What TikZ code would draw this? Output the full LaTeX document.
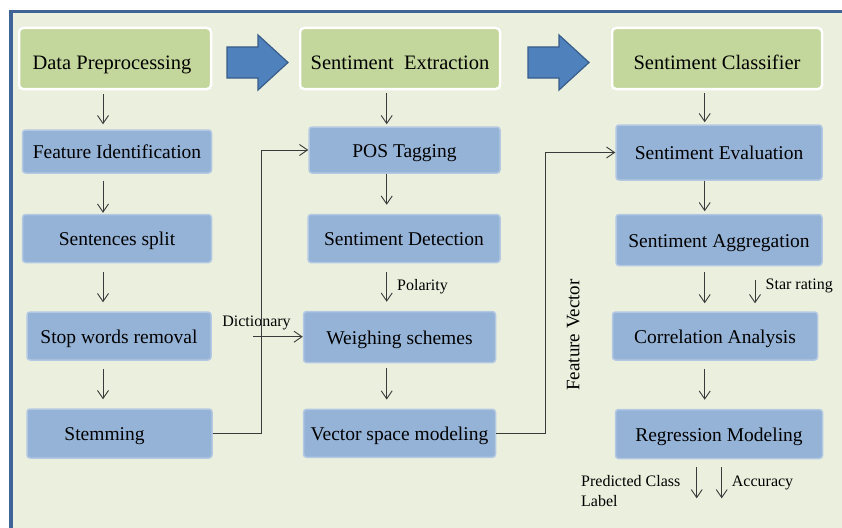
\documentclass[tikz,border=0pt]{standalone}
\usepackage{fontspec}
\setmainfont{Liberation Serif}
\usetikzlibrary{arrows.meta}
\definecolor{framebg}{HTML}{EBEFDE}
\definecolor{frameline}{HTML}{3F6598}
\definecolor{hdrfill}{HTML}{C3D69B}
\definecolor{boxfill}{HTML}{95B3D7}
\definecolor{boxedge}{HTML}{B3C8E2}
\definecolor{arrowfill}{HTML}{4F81BD}
\definecolor{arrowedge}{HTML}{385D8A}
\definecolor{linegray}{HTML}{3A3A3A}
\begin{document}
\begin{tikzpicture}[x=1pt, y=-1pt,
        hdr/.style={fill=hdrfill, draw=white, line width=2.5pt, rounded corners=4pt, inner sep=0pt,
            text height=22pt, text depth=0pt, font=\fontsize{20.5}{24}\selectfont},
        proc/.style={fill=boxfill, draw=boxedge, line width=1.5pt, rounded corners=3pt, inner sep=0pt,
            text height=14pt, text depth=0pt, font=\fontsize{19.5}{23}\selectfont},
        lbl/.style={inner sep=0pt, font=\fontsize{16}{20}\selectfont},
        flow/.style={-{Straight Barb[length=8pt,width=11pt]}, draw=linegray, line width=0.9pt},
        bigarrow/.style={fill=arrowfill, draw=arrowedge, line width=1.2pt}]
        \clip (0,0) rectangle (842,527);
        \useasboundingbox (0,0) rectangle (842,527);

        % Frame
        \fill[framebg] (11,11.7) rectangle (860,540);
        \draw[frameline, line width=3.3pt] (11,540) -- (11,11.7) -- (860,11.7);

        % Headers and big arrows
        \node[hdr, minimum width=192pt, minimum height=61pt] (dp) at (115,58.5) {Data Preprocessing\hspace*{6pt}};
        \node[hdr, minimum width=200pt, minimum height=61pt] (se) at (400,58.5) {Sentiment\ \ Extraction};
        \node[hdr, minimum width=210pt, minimum height=61pt] (sc) at (717,58.5) {Sentiment Classifier};
        \foreach \ax in {227,528}
            \draw[bigarrow] (\ax,47) -- ++(31,0) -- ++(0,-12) -- ++(30,27.5) -- ++(-30,27.5)
                -- ++(0,-12) -- ++(-31,0) -- cycle;

        \coordinate (c1) at (103,0);
        \coordinate (c2) at (386.7,0);
        \coordinate (c3) at (704.7,0);
        \coordinate (c12) at (261.7,0);
        \coordinate (c23) at (545,0);

        % Left column
        \node[proc, minimum width=189pt, minimum height=43pt] (feat) at (117,151.5) {Feature Identification};
        \node[proc, minimum width=189pt, minimum height=48pt] (split) at (117,238.5) {Sentences split};
        \node[proc, minimum width=184pt, minimum height=48pt] (stop) at (119,336) {Stop words removal};
        \node[proc, minimum width=185pt, minimum height=49pt] (stem) at (119.5,433.5) {Stemming\hspace*{30pt}};
        \draw[flow, shorten <=4pt, shorten >=5pt] (dp.south -| c1) -- (feat.north -| c1);
        \draw[flow, shorten <=7pt, shorten >=1pt] (feat.south -| c1) -- (split.north -| c1);
        \draw[flow, shorten <=9pt, shorten >=9pt] (split.south -| c1) -- (stop.north -| c1);
        \draw[flow, shorten <=8pt, shorten >=9pt] (stop.south -| c1) -- (stem.north -| c1);

        % Middle column
        \node[proc, minimum width=191pt, minimum height=46pt] (pos) at (404.5,150) {POS Tagging};
        \node[proc, minimum width=192pt, minimum height=48pt] (detect) at (404,238.5) {Sentiment Detection};
        \node[proc, minimum width=192pt, minimum height=51pt] (weigh) at (399.5,337) {Weighing schemes};
        \node[proc, minimum width=192pt, minimum height=48pt] (vsm) at (399.5,433.3) {Vector space modeling};
        \draw[flow, shorten <=3pt, shorten >=2pt] (se.south -| c2) -- (pos.north -| c2);
        \draw[flow, shorten <=0pt, shorten >=9pt] (pos.south -| c2) -- (detect.north -| c2);
        \draw[flow, shorten <=9pt, shorten >=9pt] (detect.south -| c2) -- (weigh.north -| c2)
            node[lbl, midway, right=10pt] {Polarity};
        \draw[flow, shorten <=5pt, shorten >=9pt] (weigh.south -| c2) -- (vsm.north -| c2);

        \coordinate (dict) at (253.3,336.7);
        \node[lbl] (dictlbl) at (256.5,323) {Dictionary};
        \draw[flow] (dict) -- (dict -| weigh.west);
        \draw[flow] (stem.east) -- (stem.east -| c12) |- (pos.west);

        % Right column
        \node[proc, minimum width=206pt, minimum height=55pt] (eval) at (719,152.5) {Sentiment Evaluation};
        \node[proc, minimum width=206pt, minimum height=51pt] (aggr) at (719,240) {Sentiment Aggregation};
        \node[proc, minimum width=205pt, minimum height=48pt] (corr) at (715,336) {Correlation Analysis};
        \node[proc, minimum width=207pt, minimum height=49pt] (regr) at (719,434) {Regression Modeling};
        \draw[flow, shorten <=3pt, shorten >=2pt] (sc.south -| c3) -- (eval.north -| c3);
        \draw[flow, shorten <=0pt, shorten >=2.5pt] (eval.south -| c3) -- (aggr.north -| c3);
        \draw[flow, shorten <=6pt, shorten >=8pt] (aggr.south -| c3) -- (corr.north -| c3);
        \draw[flow, shorten <=8pt, shorten >=9pt] (corr.south -| c3) -- (regr.north -| c3);

        \coordinate (star) at (755,280);
        \node[lbl, anchor=west] (starlbl) at (765.5,286) {Star rating};
        \draw[flow, shorten >=8pt] (star) -- (star |- corr.north);
        \draw[flow] (vsm.east) -- (vsm.east -| c23) |- (eval.west);
        \node[font=\fontsize{19}{23}\selectfont, rotate=90, inner sep=0pt] (fvec) at (573.3,335) {Feature Vector};

        % Outputs
        \coordinate (predc) at (696.7,498.3);
        \coordinate (accc) at (721.7,498.3);
        \draw[flow, shorten <=8pt] (regr.south -| predc) -- (predc);
        \draw[flow, shorten <=8pt] (regr.south -| accc) -- (accc);
        \node[lbl, align=left, anchor=north west] (predlbl) at (581,475.5) {Predicted Class\\Label};
        \node[lbl, anchor=base west] (acclbl) at (731.7,486.7) {Accuracy};
    \end{tikzpicture}
\end{document}
